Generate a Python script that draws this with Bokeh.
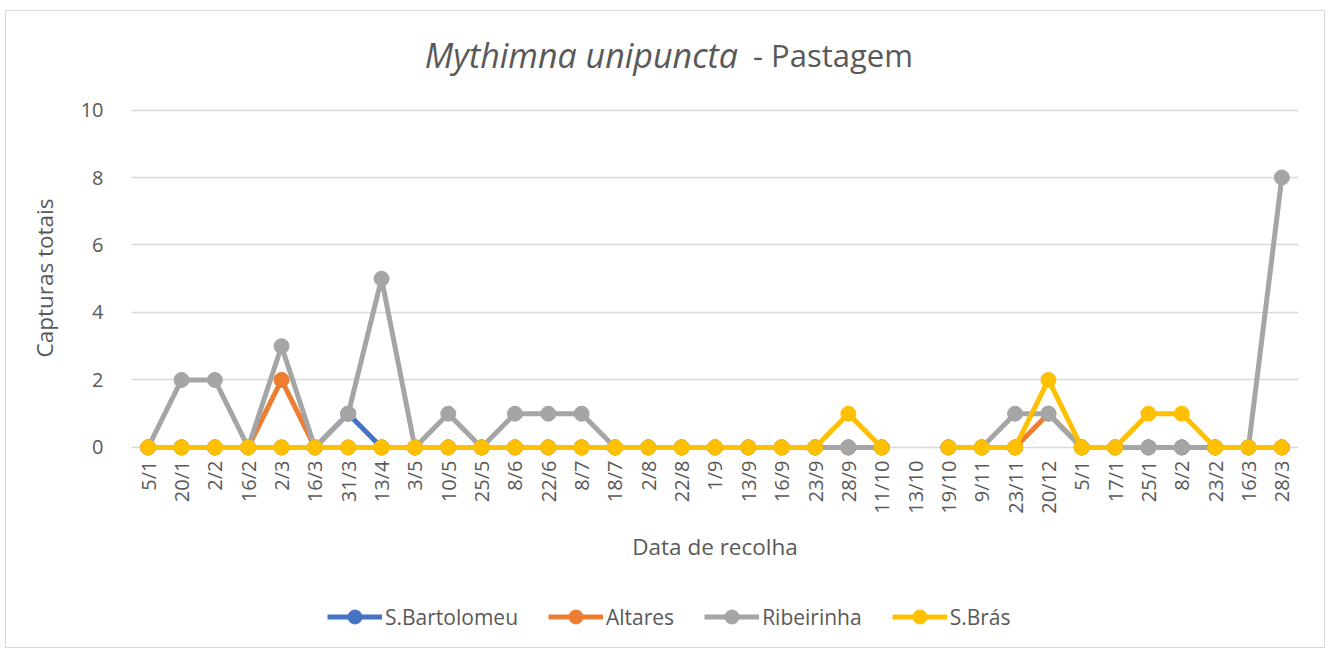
import numpy as np
from bokeh.plotting import figure
from bokeh.models import Range1d, FixedTicker, Legend, LegendItem, Label, Title
from bokeh.embed import file_html
from bokeh.resources import INLINE

dates = ["5/1", "20/1", "2/2", "16/2", "2/3", "16/3", "31/3", "13/4", "3/5", "10/5",
         "25/5", "8/6", "22/6", "8/7", "18/7", "2/8", "22/8", "1/9", "13/9", "16/9",
         "23/9", "28/9", "11/10", "13/10", "19/10", "9/11", "23/11", "20/12", "5/1", "17/1",
         "25/1", "8/2", "23/2", "16/3", "28/3"]
nan = float("nan")
s_bartolomeu = [0, 0, 0, 0, 0, 0, 1, 0, 0, 0, 0, 0, 0, 0, 0, 0, 0, 0, 0, 0,
                0, 0, 0, nan, 0, 0, 0, nan, 0, 0, 0, 0, 0, 0, 0]
altares = [0, 0, 0, 0, 2, 0, 0, 0, 0, 0, 0, 0, 0, 0, 0, 0, 0, 0, 0, 0,
           0, 0, 0, nan, 0, 0, 0, 1, 0, 0, 0, 0, 0, 0, 0]
ribeirinha = [0, 2, 2, 0, 3, 0, 1, 5, 0, 1, 0, 1, 1, 1, 0, 0, 0, 0, 0, 0,
              0, 0, 0, nan, 0, 0, 1, 1, 0, 0, 0, 0, 0, 0, 8]
s_bras = [0, 0, 0, 0, 0, 0, 0, 0, 0, 0, 0, 0, 0, 0, 0, 0, 0, 0, 0, 0,
          0, 1, 0, nan, 0, 0, 0, 2, 0, 0, 1, 1, 0, 0, 0]
series = [("S.Bartolomeu", s_bartolomeu, "#4472C4"),
          ("Altares", altares, "#ED7D31"),
          ("Ribeirinha", ribeirinha, "#A5A5A5"),
          ("S.Brás", s_bras, "#FFC000")]
y_ticks = [0, 2, 4, 6, 8, 10]

FONT = "Open Sans"
TXT = "#595959"

x = list(range(len(dates)))

p = figure(frame_width=1167, frame_height=636, output_backend="svg", toolbar_location=None,
           x_range=Range1d(-0.5, len(dates) - 0.5), y_range=Range1d(-5.93, 12.92),
           min_border_left=125, min_border_right=26, min_border_top=0, min_border_bottom=0)
p.outline_line_color = None
p.background_fill_color = "white"
p.border_fill_color = "white"
p.styles = {"margin-left": "5px", "margin-top": "10px", "border": "1px solid #D9D9D9"}

items = []
for name, vals, col in series:
    r1 = p.line(x, vals, line_color=col, line_width=5)
    r2 = p.scatter(x, vals, size=15, fill_color=col, line_color=col)
    items.append(LegendItem(label=name, renderers=[r1, r2]))

p.xgrid.grid_line_color = None
p.ygrid.grid_line_color = "#D9D9D9"
p.ygrid.grid_line_width = 1.3
p.yaxis.ticker = FixedTicker(ticks=y_ticks)
p.xaxis.ticker = FixedTicker(ticks=x)
p.xaxis.major_label_overrides = {i: d for i, d in enumerate(dates)}
p.xaxis.major_label_orientation = np.pi / 2
p.xaxis.fixed_location = -0.3

for ax in (p.xaxis[0], p.yaxis[0]):
    ax.axis_line_color = None
    ax.major_tick_line_color = None
    ax.minor_tick_line_color = None
    ax.major_tick_out = 0
    ax.major_label_text_font = FONT
    ax.major_label_text_color = TXT
    ax.major_label_text_font_size = "20px"
    ax.axis_label_text_font = FONT
    ax.axis_label_text_color = TXT
    ax.axis_label_text_font_style = "normal"
    ax.axis_label_text_font_size = "22.5px"

p.yaxis.major_label_standoff = 28
p.xaxis.major_label_standoff = 3
p.xaxis.axis_label = "Data de recolha"
p.xaxis.axis_label_standoff = 14

ytitle = Title(text="Capturas totais", align="left", offset=290, vertical_align="middle",
               standoff=33, text_font=FONT, text_font_size="22.5px",
               text_font_style="normal", text_color=TXT)
p.add_layout(ytitle, "left")

t1 = Label(x=17.69, y=11.63, text="Mythimna unipuncta", text_align="right",
           text_baseline="middle", text_font=FONT, text_font_size="34px",
           text_font_style="italic", text_color=TXT)
t2 = Label(x=18.14, y=11.63, text="- Pastagem", text_align="left",
           text_baseline="middle", text_font=FONT, text_font_size="31px",
           text_color=TXT)
p.add_layout(t1)
p.add_layout(t2)

legend = Legend(items=items, orientation="horizontal", location=(196, 13),
                label_text_font=FONT, label_text_font_size="21px", label_text_color=TXT,
                glyph_width=55, glyph_height=35, label_standoff=3, spacing=30,
                padding=0, margin=0, border_line_color=None, background_fill_alpha=0)
p.add_layout(legend)

open("out.html", "w").write(file_html(p, INLINE))
